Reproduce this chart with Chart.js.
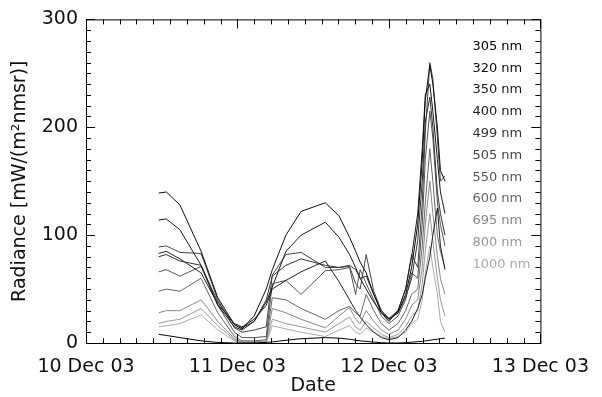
<!DOCTYPE html>
<html lang="en">
<head>
    <meta charset="UTF-8">
    <title>Radiance</title>
    <script src="https://cdn.jsdelivr.net/npm/chart.js"></script>
    <style>
        body { margin: 0; background: #fff; }
        #wrap { width: 602px; height: 397px; }
    </style>
</head>
<body>
<div id="wrap"><canvas id="grafico" width="602" height="397"></canvas></div>

<script>
    // time axis, decimal day of December 2003
    const times = [10.48, 10.53, 10.62, 10.76, 10.87, 10.98, 11.03, 11.11, 11.19, 11.23,
                   11.32, 11.42, 11.58, 11.67, 11.74, 11.78, 11.81, 11.85, 11.90, 11.95,
                   12.00, 12.06, 12.11, 12.15, 12.19, 12.22, 12.24, 12.27, 12.29, 12.32,
                   12.34, 12.37];

    const wavelengths = ['305 nm', '320 nm', '350 nm', '400 nm', '499 nm', '505 nm',
                         '550 nm', '600 nm', '695 nm', '800 nm', '1000 nm'];
    const lineColors = ['#000000', '#0d0d0d', '#1a1a1a', '#222222', '#333333', '#444444',
                        '#555555', '#666666', '#888888', '#999999', '#aaaaaa'];

    // radiance series, mW/(m2 nm sr)
    const r305  = [8, 7, 5, 2, 0.5, 0, 0, 0, 0.5, 1, 2.5, 4, 5, 4.5, 3.5, 2.5, 2, 1.5, 0.8, 0.3,
                   0, 0, 0.3, 0.8, 1.2, 1.5, 2, 2.5, 3, 3.5, 4, 4.5];
    const r320  = [139, 140, 128, 85, 42, 17, 13, 25, 50, 68, 100, 122, 130, 118, 98, 85, 75, 65, 45, 28,
                   22, 28, 45, 70, 110, 170, 225, 258, 240, 200, 160, 150];
    const r350  = [114, 115, 105, 72, 35, 15, 12, 20, 38, 52, 85, 100, 112, 98, 82, 70, 60, 50, 38, 28,
                   20, 30, 50, 80, 120, 180, 230, 240, 215, 170, 140, 120];
    const r400  = [83, 85, 78, 65, 36, 18, 15, 22, 35, 50, 58, 66, 76, 57, 40, 30, 24, 17, 10, 5,
                   3, 5, 12, 20, 32, 45, 60, 80, 100, 125, 90, 68];
    const r499  = [80, 82, 76, 72, 38, 17, 14, 20, 40, 62, 72, 78, 72, 70, 72, 68, 60, 62, 45, 30,
                   22, 28, 42, 60, 95, 150, 205, 228, 200, 140, 120, 100];
    const r505  = [89, 90, 84, 83, 40, 14, 10, 12, 15, 63, 82, 84, 70, 70, 71, 55, 50, 82, 48, 30,
                   23, 30, 50, 82, 70, 130, 195, 260, 245, 190, 150, 155];
    const r550  = [66, 68, 62, 71, 35, 10, 5, 5, 6, 55, 58, 45, 67, 68, 70, 45, 68, 55, 40, 25,
                   18, 25, 40, 65, 60, 110, 170, 215, 190, 130, 110, 90];
    const r600  = [48, 50, 48, 60, 28, 6, 2, 2, 3, 42, 40, 32, 22, 30, 34, 28, 25, 45, 30, 18,
                   12, 18, 30, 45, 50, 90, 130, 180, 150, 100, 85, 70];
    const r695  = [28, 30, 30, 40, 20, 4, 1, 1, 2, 32, 28, 22, 14, 25, 33, 22, 18, 30, 20, 12,
                   8, 12, 22, 35, 40, 70, 110, 150, 120, 80, 60, 45];
    const r800  = [18, 20, 22, 32, 16, 3, 0.5, 0.5, 1, 22, 18, 15, 10, 18, 24, 15, 12, 20, 14, 8,
                   5, 8, 15, 25, 30, 55, 85, 120, 95, 60, 40, 25];
    const r1000 = [15, 16, 18, 26, 12, 2, 0, 0, 0.5, 16, 13, 10, 6, 12, 16, 10, 8, 14, 10, 6,
                   4, 6, 10, 18, 22, 40, 65, 90, 70, 45, 20, 10];

    const series = [r305, r320, r350, r400, r499, r505, r550, r600, r695, r800, r1000];

    const xTickValues = [10, 11, 12, 13];
    const xTickLabels = ['10 Dec 03', '11 Dec 03', '12 Dec 03', '13 Dec 03'];
    const yTickValues = [0, 100, 200, 300];

    const fonte = 'DejaVu Sans';

    // moldura com marcas para dentro (estilo IDL) e legenda de texto
    const moldura = {
        id: 'moldura',
        afterDatasetsDraw(chart) {
            const { ctx, chartArea: a, scales: { x, y } } = chart;
            ctx.save();
            ctx.strokeStyle = '#000';
            ctx.lineWidth = 1;
            ctx.strokeRect(a.left + 0.5, a.top + 0.5, a.width, a.height);
            ctx.beginPath();
            for (let v = 0; v <= 300; v += 10) {
                const py = Math.round(y.getPixelForValue(v)) + 0.5;
                const len = v % 100 === 0 ? 9 : 5;
                ctx.moveTo(a.left, py); ctx.lineTo(a.left + len, py);
                ctx.moveTo(a.right, py); ctx.lineTo(a.right - len, py);
            }
            for (let i = 0; i <= 27; i++) {
                const px = Math.round(x.getPixelForValue(10 + i / 9)) + 0.5;
                const len = i % 9 === 0 ? 9 : 5;
                ctx.moveTo(px, a.bottom); ctx.lineTo(px, a.bottom - len);
                ctx.moveTo(px, a.top); ctx.lineTo(px, a.top + len);
            }
            ctx.stroke();

            ctx.font = '13px "' + fonte + '"';
            ctx.textBaseline = 'middle';
            ctx.textAlign = 'left';
            chart.data.datasets.forEach((ds, i) => {
                ctx.fillStyle = ds.borderColor;
                ctx.fillText(ds.label, a.right - 68, a.top + 27 + i * 21.8);
            });
            ctx.restore();
        }
    };

    const ctx = document.getElementById('grafico').getContext('2d');
    new Chart(ctx, {
        type: 'line',
        data: {
            datasets: series.map((vals, i) => ({
                label: wavelengths[i],
                data: vals.map((v, j) => ({ x: times[j], y: v })),
                borderColor: lineColors[i],
                borderWidth: 1,
                pointRadius: 0,
                tension: 0,
                fill: false
            }))
        },
        options: {
            responsive: false,
            animation: false,
            layout: { padding: { top: 14, right: 52, left: 0, bottom: 0 } },
            plugins: { legend: { display: false }, tooltip: { enabled: false } },
            scales: {
                x: {
                    type: 'linear',
                    min: 10,
                    max: 13,
                    afterFit: s => { s.height = 54; },
                    afterBuildTicks: s => { s.ticks = xTickValues.map(v => ({ value: v })); },
                    grid: { display: false, drawTicks: false },
                    border: { display: false },
                    ticks: {
                        padding: 13,
                        maxRotation: 0,
                        autoSkip: false,
                        color: '#111',
                        font: { family: fonte, size: 19 },
                        callback: v => xTickLabels[xTickValues.indexOf(v)]
                    },
                    title: {
                        display: true,
                        text: 'Date',
                        color: '#111',
                        padding: 0,
                        font: { family: fonte, size: 19 }
                    }
                },
                y: {
                    min: 0,
                    max: 300,
                    afterFit: s => { s.width = 86; },
                    afterBuildTicks: s => { s.ticks = yTickValues.map(v => ({ value: v })); },
                    grid: { display: false, drawTicks: false },
                    border: { display: false },
                    ticks: {
                        padding: 8,
                        color: '#111',
                        font: { family: fonte, size: 19 }
                    },
                    title: {
                        display: true,
                        text: 'Radiance [mW/(m²nmsr)]',
                        color: '#111',
                        padding: { top: 9, bottom: 0 },
                        font: { family: fonte, size: 19 }
                    }
                }
            }
        },
        plugins: [moldura]
    });
</script>
</body>
</html>
